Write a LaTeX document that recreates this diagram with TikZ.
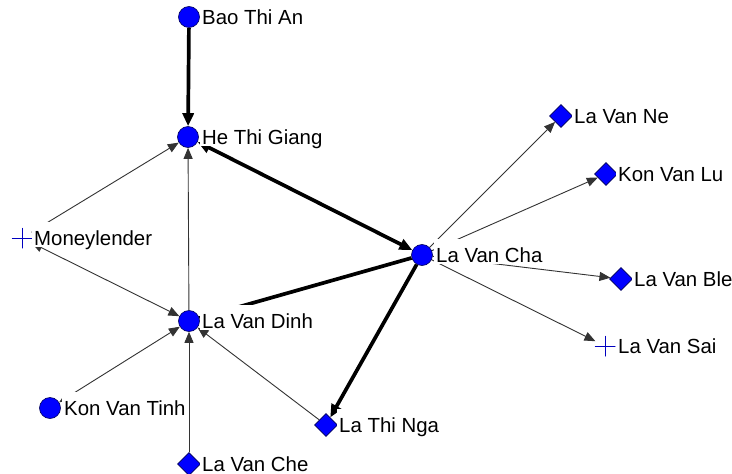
\documentclass[tikz,border=0pt]{standalone}
\usepackage{fontspec}
\setmainfont{Liberation Sans}
\usetikzlibrary{arrows.meta,shapes.geometric}
\pgfdeclarelayer{bg}
\pgfsetlayers{bg,main}
\begin{document}
\begin{tikzpicture}[x=1pt,y=-1pt,
  dot/.style={circle,fill=blue,draw=blue!35!black,line width=0.6pt,minimum size=21pt,inner sep=0pt},
  dia/.style={diamond,aspect=1,fill=blue,draw=blue!35!black,line width=0.6pt,minimum size=23pt,inner sep=0pt},
  crs/.style={circle,minimum size=21pt,inner sep=0pt,path picture={\draw[blue!75!black,line width=0.8pt] (path picture bounding box.north)--(path picture bounding box.south) (path picture bounding box.west)--(path picture bounding box.east);}},
  lab/.style={anchor=base west,fill=white,inner xsep=2pt,inner ysep=0pt,text height=23pt,text depth=2pt,font=\fontsize{20.4}{24}\selectfont},
  thinedge/.style={draw=black!80,line width=0.9pt},
  thickedge/.style={draw=black,line width=3.7pt},
  ta/.style={-{Triangle[length=11pt,width=9pt]}},
  tb/.style={{Triangle[length=11pt,width=9pt]}-{Triangle[length=11pt,width=9pt]}},
  ka/.style={-{Triangle[length=13pt,width=11pt]}},
  kb/.style={{Triangle[length=13pt,width=11pt]}-{Triangle[length=13pt,width=11pt]}}
]
\useasboundingbox (0,0) rectangle (732,474);
% nodes
\node[dot] (bao) at (189,17) {};
\node[dot] (htg) at (188,137) {};
\node[crs] (ml) at (22,238) {};
\node[dot] (dinh) at (189,321) {};
\node[dot] (tinh) at (50,408) {};
\node[dia] (che) at (189,464) {};
\node[dia] (nga) at (326,425) {};
\node[dot] (cha) at (422,255) {};
\node[dia] (ne) at (561,116) {};
\node[dia] (lu) at (606,174) {};
\node[dia] (ble) at (621,279) {};
\node[crs] (sai) at (605,346) {};
% labels
\node[lab] (baoL) at (200,24) {Bao Thi An};
\node[lab] (htgL) at (200,144) {He Thi Giang};
\node[lab] (mlL) at (32,245) {Moneylender};
\node[lab] (dinhL) at (200,328) {La Van Dinh};
\node[lab] (tinhL) at (62,415) {Kon Van Tinh};
\node[lab] (cheL) at (200,471) {La Van Che};
\node[lab] (ngaL) at (337,432) {La Thi Nga};
\node[lab] (chaL) at (434,262) {La Van Cha};
\node[lab] (neL) at (572,123) {La Van Ne};
\node[lab] (luL) at (616,181) {Kon Van Lu};
\node[lab] (bleL) at (632,286) {La Van Ble};
\node[lab] (saiL) at (616,353) {La Van Sai};
% edges
\begin{pgfonlayer}{bg}
\fill[white] (0,0) rectangle (732,474);
\draw[thickedge,ka] (bao) -- (htg);
\draw[thickedge,kb] (htg) -- (cha);
\draw[thickedge,ka] (cha) -- (nga);
\draw[thickedge] (cha) -- (dinh);
\draw[thinedge,ta] (dinh) -- (htg);
\draw[thinedge,tb] (ml) -- (htg);
\draw[thinedge,tb] (ml) -- (dinh);
\draw[thinedge,tb] (tinh) -- (dinh);
\draw[thinedge,ta] (che) -- (dinh);
\draw[thinedge,ta] (nga) -- (dinh);
\draw[thinedge,ta] (cha) -- (ne);
\draw[thinedge,ta] (cha) -- (lu);
\draw[thinedge,ta] (cha) -- (ble);
\draw[thinedge,ta] (cha) -- (sai);
\end{pgfonlayer}
\end{tikzpicture}
\end{document}
